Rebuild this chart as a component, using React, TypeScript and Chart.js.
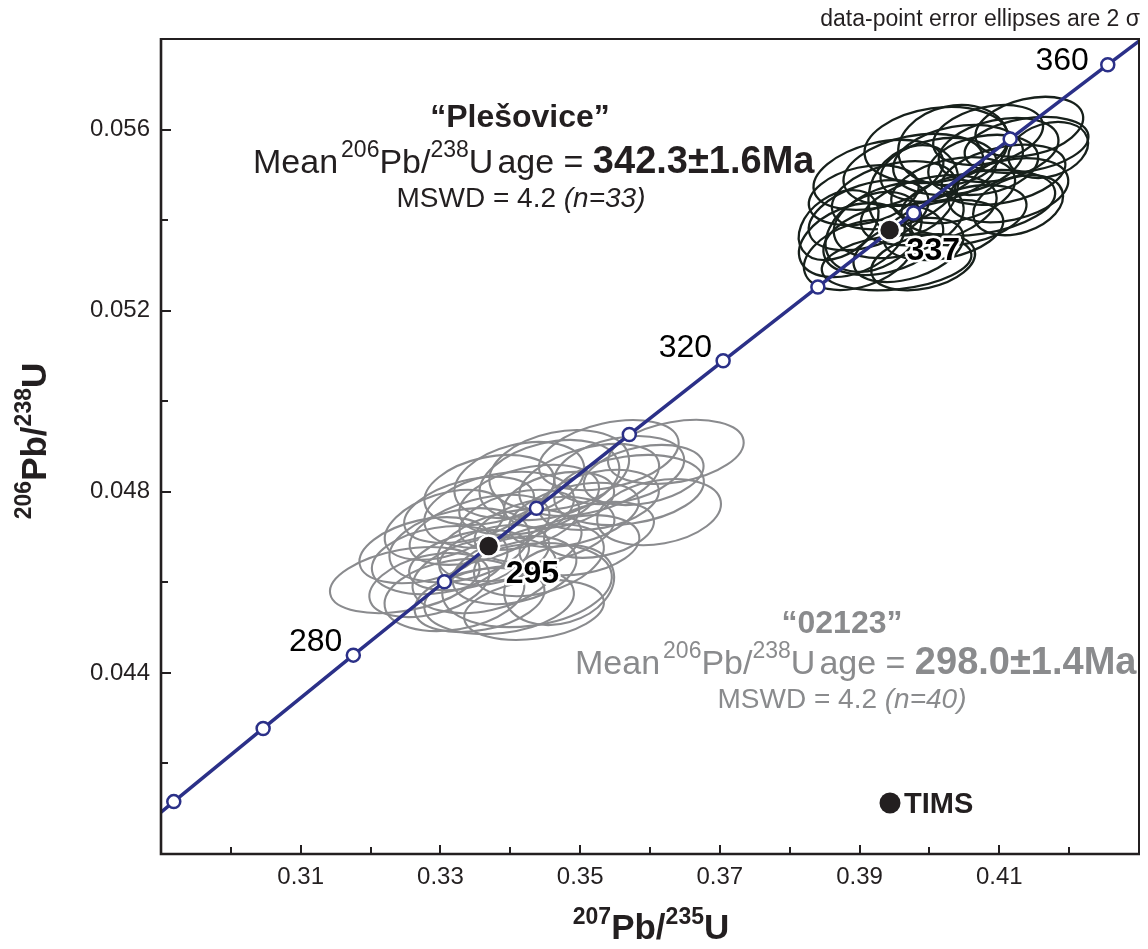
import React, { useEffect, useRef } from 'react';
import { Chart, registerables } from 'chart.js';

Chart.register(...registerables);

const FONT = '"Liberation Sans", Arial, Helvetica, sans-serif';
const INK = '#231f20';
const GRAY_TXT = '#8a8b8d';
const NAVY = '#2b3088';

// Concordia (ages in Ma) and its ratios
const concordiaAges = [250, 260, 270, 280, 290, 300, 310, 320, 330, 340, 350, 360, 370];
const concordiaX = [0.27916, 0.29183, 0.30462, 0.31753, 0.33057, 0.34374, 0.35704, 0.37047, 0.38403, 0.39773, 0.41156, 0.42553, 0.43964];
const concordiaY = [0.039542, 0.041157, 0.042773, 0.044392, 0.046013, 0.047637, 0.049264, 0.050893, 0.052524, 0.054158, 0.055794, 0.057433, 0.059075];
const labelledAges = [280, 320, 360];

// TIMS reference ages
const timsX = [0.3369, 0.3943];
const timsY = [0.0468, 0.05378];
const timsLabels = ['295', '337'];

// "02123" zircon analyses (2-sigma error ellipses)
const grayX = [0.3637, 0.3613, 0.3249, 0.3424, 0.3556, 0.3513, 0.3470, 0.3427, 0.3384, 0.3356, 0.3327, 0.3299, 0.3399, 0.3449, 0.3491, 0.3363, 0.3320, 0.3384, 0.3441, 0.3527, 0.3570, 0.3341, 0.3413, 0.3370, 0.3470, 0.3284, 0.3341, 0.3406, 0.3499, 0.3456, 0.3541, 0.3413, 0.3306, 0.3377, 0.3434, 0.3527, 0.3277, 0.3470, 0.3591, 0.3356];
const grayY = [0.04888, 0.04755, 0.04605, 0.04594, 0.04848, 0.04826, 0.04848, 0.04782, 0.04760, 0.04716, 0.04682, 0.04649, 0.04682, 0.04716, 0.04749, 0.04616, 0.04572, 0.04561, 0.04649, 0.04782, 0.04804, 0.04760, 0.04738, 0.04804, 0.04782, 0.04594, 0.04649, 0.04627, 0.04682, 0.04826, 0.04881, 0.04826, 0.04727, 0.04660, 0.04539, 0.04716, 0.04671, 0.04594, 0.04837, 0.04561];
const graySX = [0.00971, 0.00886, 0.01071, 0.01214, 0.00929, 0.01000, 0.01000, 0.01000, 0.01071, 0.01000, 0.01000, 0.00971, 0.01029, 0.01000, 0.00929, 0.01029, 0.01000, 0.01071, 0.00929, 0.00857, 0.01071, 0.00929, 0.00857, 0.00929, 0.00786, 0.00857, 0.00857, 0.00886, 0.00857, 0.01000, 0.01000, 0.00929, 0.00857, 0.00786, 0.01000, 0.00786, 0.00929, 0.00786, 0.00857, 0.00929];
const graySY = [0.000707, 0.000729, 0.000729, 0.000928, 0.000751, 0.000795, 0.000883, 0.000773, 0.000839, 0.000773, 0.000817, 0.000751, 0.000795, 0.000729, 0.000707, 0.000839, 0.000795, 0.000751, 0.000795, 0.000663, 0.000773, 0.000729, 0.000663, 0.000773, 0.000618, 0.000707, 0.000663, 0.000751, 0.000663, 0.000883, 0.000773, 0.000839, 0.000773, 0.000663, 0.000663, 0.000618, 0.000729, 0.000883, 0.000663, 0.000707];
const grayRho = [0.30, 0.25, 0.35, 0.20, 0.30, 0.40, 0.25, 0.35, 0.30, 0.45, 0.30, 0.25, 0.35, 0.30, 0.40, 0.30, 0.25, 0.20, 0.35, 0.30, 0.25, 0.40, 0.35, 0.30, 0.30, 0.35, 0.40, 0.30, 0.25, 0.30, 0.35, 0.30, 0.40, 0.35, 0.25, 0.30, 0.35, 0.20, 0.30, 0.30];

// "Plešovice" zircon analyses (2-sigma error ellipses)
const blackX = [0.4143, 0.4010, 0.4139, 0.3889, 0.3953, 0.4070, 0.3927, 0.3977, 0.4041, 0.4099, 0.4106, 0.3913, 0.3956, 0.3999, 0.4034, 0.4077, 0.3899, 0.3934, 0.3970, 0.4020, 0.4056, 0.4113, 0.4013, 0.3949, 0.3906, 0.4084, 0.4170, 0.3991, 0.3870, 0.4034, 0.3920, 0.4127, 0.3977];
const blackY = [0.05606, 0.05566, 0.05566, 0.05356, 0.05307, 0.05438, 0.05500, 0.05511, 0.05533, 0.05555, 0.05500, 0.05411, 0.05400, 0.05422, 0.05466, 0.05522, 0.05323, 0.05356, 0.05334, 0.05378, 0.05411, 0.05466, 0.05511, 0.05455, 0.05455, 0.05588, 0.05555, 0.05307, 0.05389, 0.05566, 0.05374, 0.05433, 0.05466];
const blackSX = [0.00771, 0.01029, 0.00886, 0.00757, 0.01071, 0.01100, 0.00929, 0.01000, 0.00929, 0.00857, 0.00886, 0.00857, 0.00929, 0.00971, 0.00886, 0.00786, 0.00786, 0.00857, 0.00786, 0.00857, 0.00829, 0.00857, 0.00829, 0.00886, 0.00786, 0.00786, 0.00571, 0.00743, 0.00571, 0.00786, 0.00686, 0.00643, 0.00643];
const blackSY = [0.000663, 0.000839, 0.000618, 0.000817, 0.000618, 0.000729, 0.000773, 0.000795, 0.000773, 0.000707, 0.000663, 0.000773, 0.000839, 0.000773, 0.000729, 0.000663, 0.000773, 0.000773, 0.000707, 0.000663, 0.000663, 0.000707, 0.000707, 0.000751, 0.000663, 0.000663, 0.000618, 0.000618, 0.000773, 0.000883, 0.000883, 0.000663, 0.000994];
const blackRho = [0.30, 0.20, 0.30, 0.35, 0.25, 0.30, 0.35, 0.30, 0.25, 0.30, 0.35, 0.40, 0.30, 0.35, 0.30, 0.25, 0.35, 0.30, 0.40, 0.30, 0.35, 0.30, 0.25, 0.35, 0.30, 0.30, 0.25, 0.30, 0.35, 0.15, 0.30, 0.30, 0.20];

const xMajorLabels = [0.31, 0.33, 0.35, 0.37, 0.39, 0.41];
const yMajorLabels = [0.044, 0.048, 0.052, 0.056];

type Seg = { t: string; f: string; dy?: number; gap?: number };

function drawSegs(ctx: CanvasRenderingContext2D, segs: Seg[], x: number, y: number, align: 'left' | 'center' | 'right', color: string) {
  const widths = segs.map((s) => {
    ctx.font = s.f;
    return ctx.measureText(s.t).width + (s.gap || 0);
  });
  const total = widths.reduce((a, b) => a + b, 0);
  let cx = align === 'left' ? x : align === 'center' ? x - total / 2 : x - total;
  ctx.fillStyle = color;
  ctx.textAlign = 'left';
  ctx.textBaseline = 'alphabetic';
  segs.forEach((s, i) => {
    ctx.font = s.f;
    cx += s.gap || 0;
    ctx.fillText(s.t, cx, y - (s.dy || 0));
    cx += widths[i] - (s.gap || 0);
  });
}

function drawEllipses(chart: any, X: number[], Y: number[], SX: number[], SY: number[], R: number[], color: string, lw: number) {
  const { ctx, scales } = chart;
  const xs = scales.x;
  const ys = scales.y;
  ctx.strokeStyle = color;
  ctx.lineWidth = lw;
  for (let i = 0; i < X.length; i++) {
    const cx = xs.getPixelForValue(X[i]);
    const cy = ys.getPixelForValue(Y[i]);
    const ax = xs.getPixelForValue(X[i] + SX[i]) - cx;
    const ay = ys.getPixelForValue(Y[i] + SY[i]) - cy;
    const a = ax * ax;
    const c = ay * ay;
    const b = R[i] * ax * ay;
    const m = (a + c) / 2;
    const d = Math.sqrt(((a - c) / 2) ** 2 + b * b);
    const r1 = Math.sqrt(m + d);
    const r2 = Math.sqrt(Math.max(m - d, 0.01));
    const th = 0.5 * Math.atan2(2 * b, a - c);
    ctx.beginPath();
    ctx.ellipse(cx, cy, r1, r2, th, 0, Math.PI * 2);
    ctx.stroke();
  }
}

const ellipsePlugin = {
  id: 'ellipses',
  beforeDatasetsDraw(chart: any) {
    const { ctx, chartArea } = chart;
    ctx.save();
    ctx.beginPath();
    ctx.rect(chartArea.left, chartArea.top, chartArea.right - chartArea.left, chartArea.bottom - chartArea.top);
    ctx.clip();
    drawEllipses(chart, grayX, grayY, graySX, graySY, grayRho, '#8a8b8e', 2.1);
    drawEllipses(chart, blackX, blackY, blackSX, blackSY, blackRho, '#17201b', 2.3);
    ctx.restore();
  },
};

const annotationPlugin = {
  id: 'annotations',
  afterDatasetsDraw(chart: any) {
    const { ctx, scales } = chart;
    const xs = scales.x;
    const ys = scales.y;
    ctx.save();

    // concordia age labels
    ctx.font = `32px ${FONT}`;
    ctx.fillStyle = '#000';
    ctx.textAlign = 'right';
    ctx.textBaseline = 'middle';
    labelledAges.forEach((age) => {
      const i = concordiaAges.indexOf(age);
      const px = xs.getPixelForValue(concordiaX[i]);
      const py = ys.getPixelForValue(concordiaY[i]);
      if (age === 360) ctx.fillText(String(age), px - 19, py - 4);
      else ctx.fillText(String(age), px - 11, py - 13);
    });

    // TIMS labels with white halo
    ctx.font = `bold 32px ${FONT}`;
    ctx.textAlign = 'left';
    ctx.textBaseline = 'alphabetic';
    ctx.lineJoin = 'round';
    timsLabels.forEach((lab, i) => {
      const px = xs.getPixelForValue(timsX[i]) + 17;
      const py = ys.getPixelForValue(timsY[i]) + (i === 0 ? 37 : 30);
      ctx.strokeStyle = '#fff';
      ctx.lineWidth = 5;
      ctx.strokeText(lab, px, py);
      ctx.fillStyle = '#000';
      ctx.fillText(lab, px, py);
    });
    ctx.restore();
  },
  afterDraw(chart: any) {
    const { ctx, chartArea, scales } = chart;
    const { left, right, top, bottom } = chartArea;
    ctx.save();

    // ticks (inward)
    ctx.strokeStyle = INK;
    ctx.lineWidth = 2;
    scales.x.ticks.forEach((t: any) => {
      const v = t.value;
      if (v <= scales.x.min + 1e-9 || v >= scales.x.max - 1e-9) return;
      const major = xMajorLabels.some((m) => Math.abs(m - v) < 1e-6);
      const px = Math.round(scales.x.getPixelForValue(v));
      ctx.beginPath();
      ctx.moveTo(px, bottom);
      ctx.lineTo(px, bottom - (major ? 9 : 7));
      ctx.stroke();
    });
    scales.y.ticks.forEach((t: any) => {
      const v = t.value;
      if (v <= scales.y.min + 1e-9 || v >= scales.y.max - 1e-9) return;
      const major = yMajorLabels.some((m) => Math.abs(m - v) < 1e-7);
      const py = Math.round(scales.y.getPixelForValue(v));
      ctx.beginPath();
      ctx.moveTo(left, py);
      ctx.lineTo(left + (major ? 10 : 7), py);
      ctx.stroke();
    });

    // frame
    ctx.strokeStyle = INK;
    ctx.lineWidth = 2;
    ctx.beginPath();
    ctx.moveTo(left, top);
    ctx.lineTo(right, top);
    ctx.lineTo(right, bottom);
    ctx.stroke();
    ctx.lineWidth = 2.6;
    ctx.beginPath();
    ctx.moveTo(left, top - 1);
    ctx.lineTo(left, bottom);
    ctx.lineTo(right + 1, bottom);
    ctx.stroke();

    // note
    ctx.font = `23px ${FONT}`;
    ctx.fillStyle = INK;
    ctx.textAlign = 'right';
    ctx.textBaseline = 'alphabetic';
    ctx.fillText('data-point error ellipses are 2 σ', 1140, 26);

    const meanSegs = (val: string): Seg[] => [
      { t: 'Mean', f: `34px ${FONT}` },
      { t: '206', f: `23px ${FONT}`, dy: 16, gap: 3 },
      { t: 'Pb/', f: `34px ${FONT}` },
      { t: '238', f: `23px ${FONT}`, dy: 16 },
      { t: 'U', f: `34px ${FONT}` },
      { t: 'age = ', f: `34px ${FONT}`, gap: 4 },
      { t: val, f: `bold 38px ${FONT}` },
    ];

    // Plešovice block
    drawSegs(ctx, [{ t: '“Plešovice”', f: `bold 32px ${FONT}` }], 520, 127, 'center', INK);
    drawSegs(ctx, meanSegs('342.3±1.6Ma'), 253, 173, 'left', INK);
    drawSegs(
      ctx,
      [
        { t: 'MSWD = 4.2 ', f: `28px ${FONT}` },
        { t: '(n=33)', f: `italic 28px ${FONT}` },
      ],
      521,
      207,
      'center',
      INK
    );

    // 02123 block
    drawSegs(ctx, [{ t: '“02123”', f: `bold 32px ${FONT}` }], 842, 633, 'center', GRAY_TXT);
    drawSegs(ctx, meanSegs('298.0±1.4Ma'), 575, 674, 'left', GRAY_TXT);
    drawSegs(
      ctx,
      [
        { t: 'MSWD = 4.2 ', f: `28px ${FONT}` },
        { t: '(n=40)', f: `italic 28px ${FONT}` },
      ],
      842,
      708,
      'center',
      GRAY_TXT
    );

    // TIMS legend
    ctx.beginPath();
    ctx.arc(890, 803, 10.5, 0, Math.PI * 2);
    ctx.fillStyle = INK;
    ctx.fill();
    drawSegs(ctx, [{ t: 'TIMS', f: `bold 29px ${FONT}` }], 904, 813, 'left', INK);

    // axis titles
    const titleSegs = (a: string, b: string, c: string): Seg[] => [
      { t: a, f: `bold 23px ${FONT}`, dy: 15 },
      { t: 'Pb/', f: `bold 35px ${FONT}` },
      { t: b, f: `bold 23px ${FONT}`, dy: 15 },
      { t: c, f: `bold 35px ${FONT}` },
    ];
    drawSegs(ctx, titleSegs('207', '235', 'U'), 651, 939, 'center', INK);
    ctx.save();
    ctx.translate(46, 441);
    ctx.rotate(-Math.PI / 2);
    drawSegs(ctx, titleSegs('206', '238', 'U'), 0, 0, 'center', INK);
    ctx.restore();

    ctx.restore();
  },
};

export default function App() {
  const ref = useRef<HTMLCanvasElement>(null);
  useEffect(() => {
    const canvas = ref.current;
    if (!canvas) return;
    const concordiaData = concordiaX.map((x, i) => ({ x, y: concordiaY[i] }));
    const timsData = timsX.map((x, i) => ({ x, y: timsY[i] }));
    const chart = new Chart(canvas, {
      type: 'scatter',
      data: {
        datasets: [
          {
            label: 'TIMS',
            data: timsData,
            pointRadius: 10.5,
            pointBackgroundColor: INK,
            pointBorderColor: '#ffffff',
            pointBorderWidth: 2.5,
          } as any,
          {
            label: 'Concordia',
            data: concordiaData,
            showLine: true,
            borderColor: NAVY,
            borderWidth: 3.5,
            pointRadius: 6.5,
            pointBackgroundColor: '#ffffff',
            pointBorderColor: NAVY,
            pointBorderWidth: 2.5,
            tension: 0,
          } as any,
        ],
      },
      options: {
        animation: false,
        responsive: false,
        layout: { autoPadding: false, padding: { top: 39, right: 7, left: 0, bottom: 0 } },
        plugins: { legend: { display: false }, tooltip: { enabled: false } },
        events: [],
        scales: {
          x: {
            type: 'linear',
            min: 0.29,
            max: 0.43,
            afterFit: (s: any) => {
              s.height = 95;
            },
            grid: { display: false, drawTicks: false },
            border: { display: false },
            ticks: {
              stepSize: 0.01,
              autoSkip: false,
              maxRotation: 0,
              padding: 9,
              color: INK,
              font: { family: FONT, size: 24 },
              callback: (v: any) => {
                const n = Number(v);
                return xMajorLabels.some((m) => Math.abs(m - n) < 1e-6) ? n.toFixed(2) : '';
              },
            },
          },
          y: {
            type: 'linear',
            min: 0.04,
            max: 0.058,
            afterFit: (s: any) => {
              s.width = 161;
            },
            grid: { display: false, drawTicks: false },
            border: { display: false },
            ticks: {
              stepSize: 0.002,
              autoSkip: false,
              padding: 11,
              color: INK,
              font: { family: FONT, size: 24 },
              callback: (v: any) => {
                const n = Number(v);
                return yMajorLabels.some((m) => Math.abs(m - n) < 1e-7) ? n.toFixed(3) : '';
              },
            },
          },
        },
      },
      plugins: [ellipsePlugin, annotationPlugin],
    });
    return () => chart.destroy();
  }, []);
  return (
    <div style={{ position: 'fixed', left: 0, top: 0, width: 1148, height: 949, background: '#fff' }}>
      <canvas ref={ref} width={1148} height={949} style={{ display: 'block' }} />
    </div>
  );
}
